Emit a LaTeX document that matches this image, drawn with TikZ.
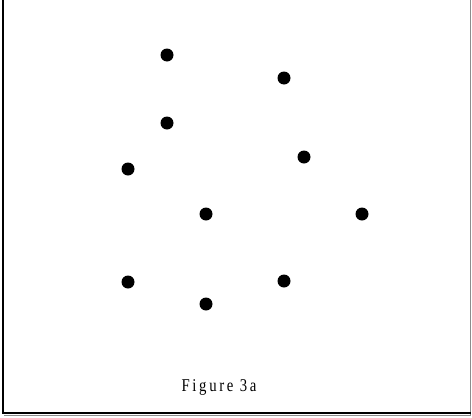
\documentclass[tikz,border=0pt]{standalone}
\usepackage{fontspec}
\setmainfont{Liberation Serif}
\newfontfamily\capfont[LetterSpace=18]{Liberation Serif}
\begin{document}
\begin{tikzpicture}[x=1pt,y=-1pt,
  pt/.style={circle,fill=black,inner sep=0pt,minimum size=13pt},
  edge/.style={line width=2pt,black},
  grayedge/.style={line width=1pt,black!45}]
\useasboundingbox (0,0) rectangle (472,418);
\coordinate (tl) at (3,0);
\coordinate (bl) at (3,413);
\coordinate (br) at (470.5,413);
\coordinate (tr) at (470.5,0);
\draw[grayedge] (tr) -- (470.5,415.5) -- (4,415.5);
\draw[edge] (tl) -- (bl) -- (br);
\node[pt] (p1) at (167,55) {};
\node[pt] (p2) at (284,78) {};
\node[pt] (p3) at (167,123) {};
\node[pt] (p4) at (304,157) {};
\node[pt] (p5) at (128,169) {};
\node[pt] (p6) at (206,214) {};
\node[pt] (p7) at (362,214) {};
\node[pt] (p8) at (128,282) {};
\node[pt] (p9) at (284,281) {};
\node[pt] (p10) at (206,304) {};
\node[inner sep=0pt,anchor=base] (cap) at (219,391) {\capfont\fontsize{18}{21}\selectfont\scalebox{0.82}[1]{Figure 3a}};
\end{tikzpicture}
\end{document}
